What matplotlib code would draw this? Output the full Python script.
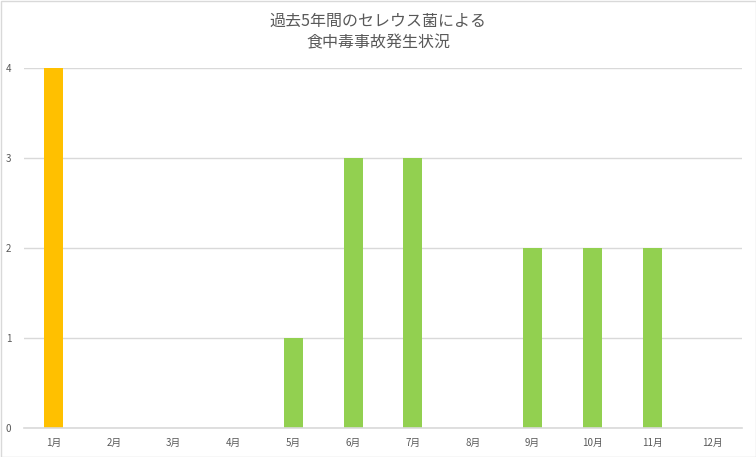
import matplotlib
matplotlib.use("Agg")
import matplotlib.pyplot as plt
from matplotlib.patches import Rectangle

plt.rcParams['font.family'] = ['Noto Sans CJK JP', 'DejaVu Sans']

# 月別の発生件数
months = ["1月", "2月", "3月", "4月", "5月", "6月",
          "7月", "8月", "9月", "10月", "11月", "12月"]
counts = [4, 0, 0, 0, 1, 3, 3, 0, 2, 2, 2, 0]
highlight = [True] + [False] * 11
title = "過去5年間のセレウス菌による\n食中毒事故発生状況"

ORANGE = "#FFC000"
GREEN = "#92D050"
TEXT = "#595959"

fig = plt.figure(figsize=(7.56, 4.57), dpi=100)
ax = fig.add_axes([24 / 756, 1 - 428 / 457, 718 / 756, 360 / 457])

xs = list(range(len(months)))
colors = [ORANGE if h else GREEN for h in highlight]
ax.bar(xs, counts, width=0.32, color=colors, zorder=3)

ax.set_xlim(-0.5, len(months) - 0.5)
ax.set_ylim(0, 4)
ax.set_yticks([0, 1, 2, 3, 4])
ax.set_xticks(xs)
ax.set_xticklabels(months)
ax.grid(axis='y', color="#d9d9d9", linewidth=1.0, zorder=0)
ax.set_axisbelow(True)

for side in ["top", "right", "left"]:
    ax.spines[side].set_visible(False)
ax.spines["bottom"].set_color("#d9d9d9")
ax.spines["bottom"].set_linewidth(1.2)
ax.spines["bottom"].set_zorder(4)

ax.tick_params(axis='both', length=0, labelsize=7, labelcolor=TEXT)
ax.tick_params(axis='y', pad=9)
ax.tick_params(axis='x', pad=7)

fig.text(0.5, 1 - 32 / 457, title, ha='center', va='center',
         fontsize=11.5, color=TEXT, linespacing=1.35)

fig.patches.append(Rectangle((0.5 / 756, 0.5 / 457), 755 / 756, 456 / 457,
                             transform=fig.transFigure, fill=False,
                             edgecolor="#d9d9d9", linewidth=1.0))

fig.savefig("out.png", dpi=100)
